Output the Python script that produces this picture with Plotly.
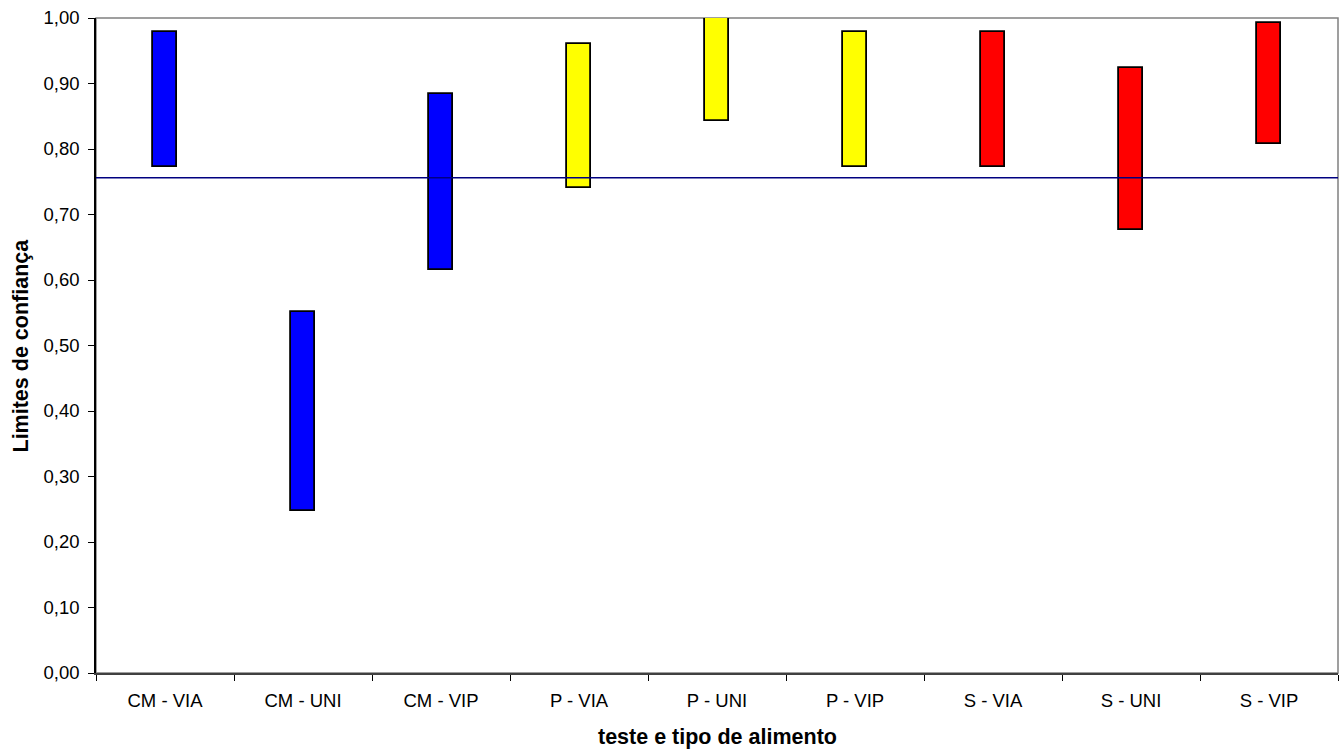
import plotly.graph_objects as go

categories = ["CM - VIA", "CM - UNI", "CM - VIP", "P - VIA", "P - UNI", "P - VIP",
              "S - VIA", "S - UNI", "S - VIP"]
lower_limits = [0.773, 0.248, 0.616, 0.740, 0.843, 0.773, 0.773, 0.676, 0.807]
upper_limits = [0.978, 0.551, 0.884, 0.961, 1.000, 0.978, 0.978, 0.924, 0.993]
bar_colors = ["#0000FF", "#0000FF", "#0000FF", "#FFFF00", "#FFFF00", "#FFFF00",
              "#FF0000", "#FF0000", "#FF0000"]
reference_value = 0.756
y_tick_values = [0.0, 0.1, 0.2, 0.3, 0.4, 0.5, 0.6, 0.7, 0.8, 0.9, 1.0]

heights = [u - l for u, l in zip(upper_limits, lower_limits)]

FONT = "Liberation Sans, Arial, sans-serif"

fig = go.Figure()
fig.add_trace(go.Bar(
    x=categories,
    y=heights,
    base=lower_limits,
    width=0.17,
    marker=dict(color=bar_colors, line=dict(color="#000000", width=1.8)),
    hoverinfo="skip",
    showlegend=False,
))

# plot area border (grey)
fig.add_shape(type="rect", xref="paper", yref="paper", x0=0, x1=1, y0=0, y1=1,
              line=dict(color="#808080", width=1.5), fillcolor="rgba(0,0,0,0)", layer="below")
# reference line
fig.add_shape(type="line", xref="paper", yref="y", x0=0, x1=1,
              y0=reference_value, y1=reference_value,
              line=dict(color="#000080", width=1.5), layer="above")

fig.update_layout(
    width=1341, height=752,
    margin=dict(l=96, r=3, t=18, b=79),
    paper_bgcolor="white", plot_bgcolor="white",
    separators=", ",
    font=dict(family=FONT, size=18.5, color="#000000"),
    bargap=0,
)
fig.update_xaxes(
    range=[-0.5, 8.5],
    tickmode="array", tickvals=list(range(len(categories))), ticktext=categories,
    tickson="boundaries",
    ticks="outside", ticklen=6, tickcolor="#000000", tickwidth=1,
    ticklabelstandoff=10,
    showline=True, linecolor="#404040", linewidth=1.5,
    showgrid=False, zeroline=False,
    tickfont=dict(family=FONT, size=18.5, color="#000000"),
)
fig.update_yaxes(
    range=[0, 1],
    tickmode="array", tickvals=y_tick_values,
    tickformat=".2f",
    ticks="outside", ticklen=6, tickcolor="#000000", tickwidth=1,
    ticklabelstandoff=5,
    showline=True, linecolor="#000000", linewidth=1.5,
    showgrid=False, zeroline=False,
    tickfont=dict(family=FONT, size=18.5, color="#000000"),
)

fig.add_annotation(text="<b>Limites de confiança</b>", xref="paper", yref="paper",
                   x=-0.0604, y=0.5, xanchor="center", yanchor="middle",
                   textangle=-90, showarrow=False,
                   font=dict(family=FONT, size=21.5, color="#000000"))
fig.add_annotation(text="<b>teste e tipo de alimento</b>", xref="paper", yref="paper",
                   x=0.5, y=-0.0977, xanchor="center", yanchor="middle",
                   showarrow=False,
                   font=dict(family=FONT, size=21.5, color="#000000"))

fig.write_html("out.html",
               config={"displayModeBar": False},
               post_script="document.body.style.margin='0px';document.body.style.overflow='hidden';")
